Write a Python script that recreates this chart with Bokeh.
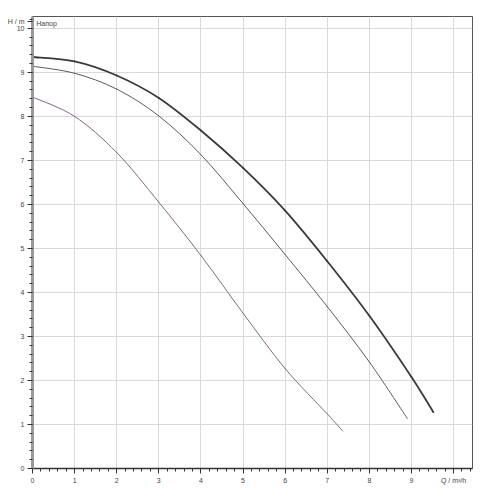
from bokeh.plotting import figure
from bokeh.models import FixedTicker, Range1d, Label
from bokeh.embed import file_html
from bokeh.resources import INLINE

# Data (Q in m3/h, H in m)
q_top = [0, 1, 2, 3, 4, 5, 6, 7, 8, 9, 9.52]
h_top = [9.35, 9.25, 8.93, 8.42, 7.68, 6.83, 5.86, 4.71, 3.47, 2.08, 1.28]

q_mid = [0, 1, 2, 3, 4, 5, 6, 7, 8, 8.9]
h_mid = [9.14, 8.98, 8.62, 8.01, 7.13, 6.02, 4.86, 3.68, 2.42, 1.14]

q_low = [0, 1, 2, 3, 4, 5, 6, 7, 7.37]
h_low = [8.44, 8.00, 7.18, 6.05, 4.84, 3.53, 2.27, 1.24, 0.85]

x_ticks = [0, 1, 2, 3, 4, 5, 6, 7, 8, 9, 10]
x_tick_labels = ["0", "1", "2", "3", "4", "5", "6", "7", "8", "9", "Q / m³/h"]
y_ticks = [0, 1, 2, 3, 4, 5, 6, 7, 8, 9, 10, 10.15]
y_tick_labels = ["0", "1", "2", "3", "4", "5", "6", "7", "8", "9", "10", "H / m"]
curve_title = "Напор"

FONT = "Liberation Sans"


def smooth_segments(xs, ys):
    """Catmull-Rom through the read points, expressed as cubic Bezier segments."""
    n = len(xs)
    px = [xs[0]] + list(xs) + [xs[-1]]
    py = [ys[0]] + list(ys) + [ys[-1]]
    seg = dict(x0=[], y0=[], x1=[], y1=[], cx0=[], cy0=[], cx1=[], cy1=[])
    for i in range(1, n):
        seg["x0"].append(px[i]); seg["y0"].append(py[i])
        seg["x1"].append(px[i + 1]); seg["y1"].append(py[i + 1])
        seg["cx0"].append(px[i] + (px[i + 1] - px[i - 1]) / 6)
        seg["cy0"].append(py[i] + (py[i + 1] - py[i - 1]) / 6)
        seg["cx1"].append(px[i + 1] - (px[i + 2] - px[i]) / 6)
        seg["cy1"].append(py[i + 1] - (py[i + 2] - py[i]) / 6)
    return seg


p = figure(width=478, height=490, output_backend="svg", toolbar_location=None,
           x_range=Range1d(0, 10.45), y_range=Range1d(0, 10.27),
           min_border_left=32, min_border_right=6, min_border_top=16, min_border_bottom=22)

p.background_fill_color = "white"
p.border_fill_color = "white"
p.outline_line_color = "#555555"
p.outline_line_width = 1

xminor = [round(i * 0.2, 2) for i in range(53)]
yminor = [round(i * 0.2, 2) for i in range(52)]
p.xaxis.ticker = FixedTicker(ticks=x_ticks, minor_ticks=xminor)
p.yaxis.ticker = FixedTicker(ticks=y_ticks, minor_ticks=yminor)
p.xaxis.major_label_overrides = {t: l for t, l in zip(x_ticks, x_tick_labels)}
p.yaxis.major_label_overrides = {t: l for t, l in zip(y_ticks, y_tick_labels)}

for ax in (p.xaxis[0], p.yaxis[0]):
    ax.major_label_text_font = FONT
    ax.major_label_text_font_size = "7px"
    ax.major_label_text_color = "#444444"
    ax.major_tick_in = 0
    ax.major_tick_out = 5
    ax.minor_tick_in = 0
    ax.minor_tick_out = 3
    ax.major_label_standoff = 3
    ax.major_tick_line_color = "#333333"
    ax.minor_tick_line_color = "#333333"

p.yaxis.axis_line_color = "#999999"
p.yaxis.axis_line_width = 3
p.xaxis.axis_line_color = "#333333"
p.xaxis.axis_line_width = 1.5

p.grid.grid_line_color = "#d9d9d9"
p.grid.grid_line_width = 1
p.xgrid.ticker = FixedTicker(ticks=x_ticks)
p.ygrid.ticker = FixedTicker(ticks=x_ticks)

p.bezier(source=smooth_segments(q_top, h_top), x0="x0", y0="y0", x1="x1", y1="y1",
         cx0="cx0", cy0="cy0", cx1="cx1", cy1="cy1",
         line_color="#3a3a3a", line_width=1.8, line_cap="round")
p.bezier(source=smooth_segments(q_mid, h_mid), x0="x0", y0="y0", x1="x1", y1="y1",
         cx0="cx0", cy0="cy0", cx1="cx1", cy1="cy1",
         line_color="#5e5a60", line_width=1, line_cap="round")
p.bezier(source=smooth_segments(q_low, h_low), x0="x0", y0="y0", x1="x1", y1="y1",
         cx0="cx0", cy0="cy0", cx1="cx1", cy1="cy1",
         line_color="#806a80", line_width=1, line_cap="round")

p.add_layout(Label(x=0.09, y=10.12, text=curve_title, text_font=FONT, text_font_size="7px",
                   text_color="#444444", text_align="left", text_baseline="middle"))

open("out.html", "w").write(file_html(p, INLINE))
